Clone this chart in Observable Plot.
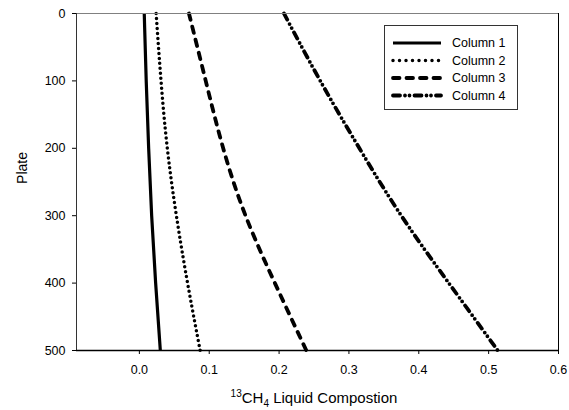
<!DOCTYPE html>
<html>
<head>
<meta charset="utf-8">
<script src="https://cdn.jsdelivr.net/npm/d3@7"></script>
<script src="https://cdn.jsdelivr.net/npm/@observablehq/plot@0.6"></script>
<style>
  html, body { margin: 0; padding: 0; background: #fff; }
  #chart { width: 569px; height: 410px; }
</style>
</head>
<body>
<div id="chart"></div>
<script>
const plates = [0, 100, 200, 300, 400, 500];
const col1 = [0.007, 0.0098, 0.0133, 0.0176, 0.0233, 0.030];
const col2 = [0.024, 0.031, 0.040, 0.053, 0.069, 0.087];
const col3 = [0.071, 0.095, 0.120, 0.152, 0.194, 0.239];
const col4 = [0.207, 0.259, 0.315, 0.375, 0.443, 0.513];
const seriesNames = ["Column 1", "Column 2", "Column 3", "Column 4"];
const xTicks = [0, 0.1, 0.2, 0.3, 0.4, 0.5, 0.6];
const yTicks = [0, 100, 200, 300, 400, 500];

const styles = [
  {strokeWidth: 3.2, strokeDasharray: null, strokeLinecap: "butt"},
  {strokeWidth: 3.5, strokeDasharray: "0,5", strokeLinecap: "round"},
  {strokeWidth: 3.8, strokeDasharray: "6.5,7", strokeLinecap: "round"},
  {strokeWidth: 3.8, strokeDasharray: "7,5,0,4.5,0,5", strokeLinecap: "round"}
];
const allSeries = [col1, col2, col3, col4];
const tables = allSeries.map((vals, i) => plates.map((p, j) => ({plate: p, x: vals[j], series: seriesNames[i]})));

const W = 569, H = 410;
const mL = 76, mR = 11, mT = 13, mB = 60;

const plot = Plot.plot({
  width: W,
  height: H,
  marginLeft: mL,
  marginRight: mR,
  marginTop: mT,
  marginBottom: mB,
  style: {fontFamily: "Arial, 'Liberation Sans', sans-serif", fontSize: "12px", background: "#fff", color: "#000"},
  x: {domain: [-0.09, 0.6]},
  y: {domain: [0, 500], reverse: true},
  marks: [
    Plot.axisX({ticks: xTicks, tickFormat: d3.format(".1f"), tickSize: 4, tickPadding: 11, label: null, fontSize: 12.5}),
    Plot.axisY({ticks: yTicks, tickSize: 4, tickPadding: 7, label: null, fontSize: 12.5}),
    ...tables.map((t, i) => Plot.line(t, {
      x: "x", y: "plate", curve: "natural", stroke: "black",
      strokeWidth: styles[i].strokeWidth,
      strokeDasharray: styles[i].strokeDasharray,
      strokeLinecap: styles[i].strokeLinecap
    })),
    Plot.ruleY([0], {stroke: "#808080", strokeWidth: 1}),
    Plot.ruleX([0.6], {stroke: "black", strokeWidth: 1}),
    Plot.ruleX([-0.09], {stroke: "#333", strokeWidth: 1}),
    Plot.ruleY([500], {stroke: "black", strokeWidth: 1.3})
  ]
});

document.getElementById("chart").appendChild(plot);

const svg = d3.select(plot);

// axis labels
const xl = svg.append("text")
  .attr("x", 314).attr("y", 403)
  .attr("text-anchor", "middle")
  .attr("font-family", "Arial, 'Liberation Sans', sans-serif")
  .attr("font-size", 15)
  .attr("fill", "black");
xl.append("tspan").attr("font-size", 10).attr("dy", -6).text("13");
xl.append("tspan").attr("dy", 6).text("CH");
xl.append("tspan").attr("font-size", 10).attr("dy", 4).text("4");
xl.append("tspan").attr("dy", -4).text(" Liquid Compostion");

svg.append("text")
  .attr("transform", "translate(27,168) rotate(-90)")
  .attr("text-anchor", "middle")
  .attr("font-family", "Arial, 'Liberation Sans', sans-serif")
  .attr("font-size", 14)
  .attr("fill", "black")
  .text("Plate");

// legend
const lg = svg.append("g").attr("text-anchor", "start");
lg.append("rect").attr("x", 384.5).attr("y", 25.5).attr("width", 133).attr("height", 84)
  .attr("fill", "white").attr("stroke", "#333").attr("stroke-width", 1);
const rowsY = [43, 60.5, 78, 95.5];
seriesNames.forEach((name, i) => {
  const s = styles[i];
  const ln = lg.append("line").attr("x1", 393).attr("x2", 441).attr("y1", rowsY[i]).attr("y2", rowsY[i])
    .attr("stroke", "black").attr("stroke-width", s.strokeWidth).attr("stroke-linecap", s.strokeLinecap);
  if (s.strokeDasharray) ln.attr("stroke-dasharray", i === 1 ? "0,6.5" : s.strokeDasharray);
  lg.append("text").attr("x", 452).attr("y", rowsY[i]).attr("dy", "0.35em")
    .attr("text-anchor", "start")
    .attr("font-family", "Arial, 'Liberation Sans', sans-serif").attr("font-size", 12.5)
    .attr("fill", "black").text(name);
});
</script>
</body>
</html>
